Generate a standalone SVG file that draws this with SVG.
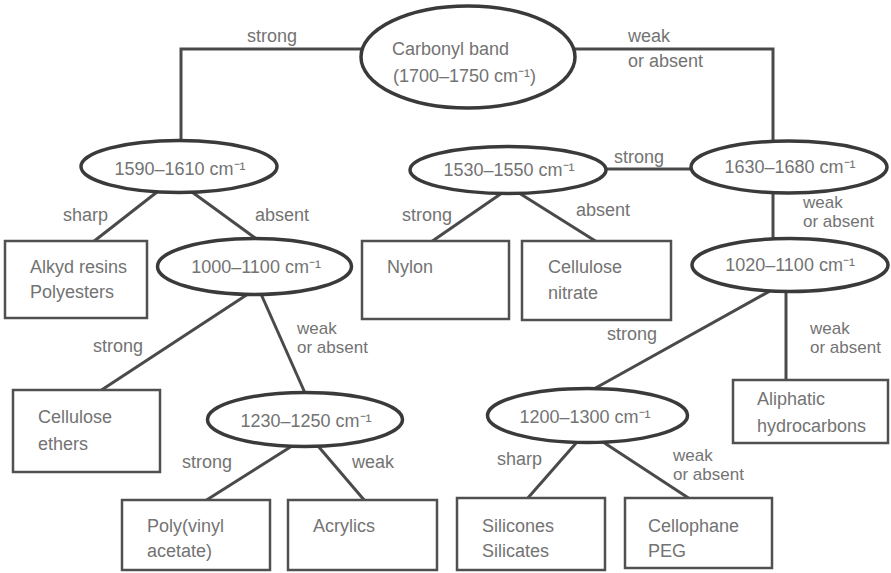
<svg xmlns="http://www.w3.org/2000/svg" width="891" height="573" viewBox="0 0 891 573">
<style>
.bg{fill:#ffffff}
.conn line,.conn polyline{stroke:#4a4a4a;stroke-width:3;fill:none}
.ell{fill:#ffffff;stroke:#3a3a3a;stroke-width:3.5}
.box{fill:#ffffff;stroke:#505050;stroke-width:2.5}
text{font-family:"Liberation Sans",Arial,Helvetica,sans-serif;font-size:18px;fill:#737373}
text.st{font-size:17px}
.c{text-anchor:middle}
</style>
<rect class="bg" x="0" y="0" width="891" height="573"/>
<g id="connectors" class="conn">
<polyline points="362,49 181,49 181,142"/>
<polyline points="574,49 773,49 773,142"/>
<line x1="157" y1="192" x2="93" y2="242"/>
<line x1="192" y1="192" x2="258" y2="240"/>
<line x1="248" y1="294" x2="100" y2="391"/>
<line x1="261" y1="294" x2="305" y2="393"/>
<line x1="292" y1="446" x2="205" y2="501"/>
<line x1="318" y1="446" x2="365" y2="501"/>
<line x1="605" y1="169" x2="692" y2="169"/>
<line x1="502" y1="193" x2="431" y2="242"/>
<line x1="519" y1="193" x2="597" y2="242"/>
<line x1="773" y1="192" x2="773" y2="240"/>
<line x1="770" y1="291" x2="592" y2="390"/>
<line x1="786" y1="291" x2="786" y2="381"/>
<line x1="577" y1="442" x2="527" y2="499"/>
<line x1="603" y1="442" x2="690" y2="499"/>
</g>
<g id="edge-labels">
<text x="247" y="42">strong</text>
<text x="628" y="42">weak<tspan x="628" dy="25">or absent</tspan></text>
<text x="63" y="221">sharp</text>
<text x="255" y="221">absent</text>
<text x="402" y="221">strong</text>
<text x="576" y="216">absent</text>
<text x="614" y="163">strong</text>
<text class="st" x="803" y="208">weak</text>
<text class="st" x="803" y="227">or absent</text>
<text x="93" y="352">strong</text>
<text class="st" x="297" y="334">weak</text>
<text class="st" x="297" y="353">or absent</text>
<text x="182" y="468">strong</text>
<text x="352" y="468">weak</text>
<text x="607" y="340">strong</text>
<text class="st" x="810" y="334">weak</text>
<text class="st" x="810" y="353">or absent</text>
<text x="497" y="465">sharp</text>
<text class="st" x="673" y="461">weak</text>
<text class="st" x="673" y="480">or absent</text>
</g>
<g id="carbonyl">
<ellipse class="ell" cx="468" cy="57" rx="107" ry="51"/>
<text x="392" y="55">Carbonyl band</text>
<text x="393" y="82">(1700–1750 cm⁻¹)</text>
</g>
<g id="n1590">
<ellipse class="ell" cx="179" cy="166.5" rx="98" ry="26"/>
<text class="c" x="180" y="175">1590–1610 cm⁻¹</text>
</g>
<g id="n1530">
<ellipse class="ell" cx="508" cy="170" rx="98" ry="23.5"/>
<text class="c" x="509" y="176">1530–1550 cm⁻¹</text>
</g>
<g id="n1630">
<ellipse class="ell" cx="789" cy="167" rx="98" ry="26"/>
<text class="c" x="790" y="173">1630–1680 cm⁻¹</text>
</g>
<g id="n1000">
<ellipse class="ell" cx="254.5" cy="266.5" rx="97" ry="28"/>
<text class="c" x="256" y="273">1000–1100 cm⁻¹</text>
</g>
<g id="n1020">
<ellipse class="ell" cx="790" cy="265" rx="98" ry="26.5"/>
<text class="c" x="790" y="271">1020–1100 cm⁻¹</text>
</g>
<g id="n1230">
<ellipse class="ell" cx="305" cy="419.5" rx="97.5" ry="27"/>
<text class="c" x="306" y="427">1230–1250 cm⁻¹</text>
</g>
<g id="n1200">
<ellipse class="ell" cx="587.5" cy="415.5" rx="100" ry="27"/>
<text class="c" x="585" y="423">1200–1300 cm⁻¹</text>
</g>
<g id="alkyd">
<rect class="box" x="5" y="241" width="142" height="77"/>
<text x="30" y="273">Alkyd resins</text>
<text x="30" y="298">Polyesters</text>
</g>
<g id="nylon">
<rect class="box" x="362" y="241" width="147" height="78"/>
<text x="387" y="273">Nylon</text>
</g>
<g id="cellulose-nitrate">
<rect class="box" x="522" y="241" width="149" height="79"/>
<text x="548" y="273">Cellulose</text>
<text x="548" y="299">nitrate</text>
</g>
<g id="cellulose-ethers">
<rect class="box" x="13" y="390" width="147" height="82"/>
<text x="38" y="423">Cellulose</text>
<text x="38" y="450">ethers</text>
</g>
<g id="aliphatic">
<rect class="box" x="733" y="380" width="155" height="63"/>
<text x="757" y="405">Aliphatic</text>
<text x="757" y="432">hydrocarbons</text>
</g>
<g id="pva">
<rect class="box" x="122" y="500" width="148" height="70"/>
<text x="147" y="532">Poly(vinyl</text>
<text x="147" y="557">acetate)</text>
</g>
<g id="acrylics">
<rect class="box" x="288" y="500" width="149" height="70"/>
<text x="313" y="532">Acrylics</text>
</g>
<g id="silicones">
<rect class="box" x="457" y="498" width="148" height="72"/>
<text x="482" y="532">Silicones</text>
<text x="482" y="557">Silicates</text>
</g>
<g id="cellophane">
<rect class="box" x="625" y="498" width="147" height="70"/>
<text x="648" y="532">Cellophane</text>
<text x="648" y="557">PEG</text>
</g>
</svg>
